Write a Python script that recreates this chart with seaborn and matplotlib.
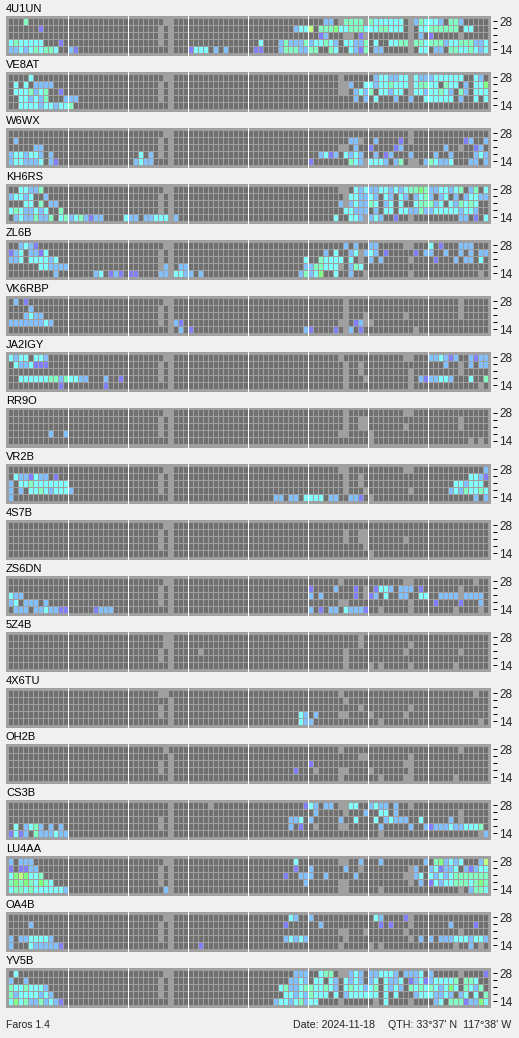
import numpy as np
import matplotlib
matplotlib.use("Agg")
import matplotlib.pyplot as plt
from matplotlib.colors import ListedColormap
import seaborn as sns

# each row: "start_column:levels", rows go from 28 MHz (top) down to 14 MHz
# . no signal, - no data, p b c t g y = weak to strong
A = ["31:-- ", "30:-.- ", "30:-.- ", "30:-.- ", "32:- "]
B = ["31:-- ", "31:-- ", "30:-.- ", "30:-.- ", "32:- "]
C = ["30:-- ", "32:- ", "30:-.- ", "30:-.- ", "32:- "]
D = ["31:- ", "32:- ", "30:-.- ", "30:-.- ", "32:- "]
E = ["32:- ", "32:- ", "30:-.- ", "30:-.- ", "32:- "]

R_4U1UN = [A[0] + "3:t 63:bb 66:- 67:tttt 71:- 72:tcccccc 80:-btcccb.ttb",
           A[1] + "6:p 57:bccy.tttgccttt 71:cccttccc 80:-.cctttttt 91:cc",
           A[2] + "62:pb 67:-- 70:p 71:- 80:-.b.p 90:-",
           A[3] + "0:ctccccc 10:p 50:c 54:btbbbtbcctcb 67:ccbbt 73:c 76:cctt 80:-ttctttbcctttbbc",
           A[4] + "0:bbcbctcttc 12:bp 36:pccc 41:b 43:b 49:pp 54:btttbb 60:tt 64:tc 68:cbpt 73:bb 80:- 82:cc 85:bb 88:ttcctcb 95:c"]
R_VE8AT = [A[0] + "4:c 66:- 73:bccbbcc 80:-cbbbcccccc 93:cb",
           A[1] + "1:c 3:c 5:bbbb 66:-- 68:b 71:ccbcctccc 80:-cttcc.tcc 91:b 93:ccg",
           A[2] + "1:ccctbct 10:p 66:-- 69:bcbt 74:ccbcc 80:-ccbcctcb.tb.ccc",
           A[3] + "2:ccbcbt 11:bbb 69:b 71:b 73:c 77:b 80:b 83:cccccc 90:b 93:c 95:c",
           A[4] + "2:ccccbccbcct"]
R_W6WX = [A[0] + "80:-",
          A[1] + "1:b 68:bb 70:- 73:b 78:p 80:- 91:pb 95:b",
          A[2] + "5:bb 66:-- 69:b 72:p 77:pb 87:b 90:- 93:pb",
          A[3] + "0:bccbccb 8:b 26:c 28:b 62:bcpb 67:cbcb 73:b 75:pb 80:b 85:b 88:b 93:bcb",
          A[4] + "0:bccbbbc 8:bp 25:bcbb 60:p 68:tcb 71:- 72:ccc 75:b 77:bt 80:-- 83:btcbbc 92:bb 95:b"]
R_KH6RS = [A[0] + "2:ccbbt 66:-- 69:cbc 72:bbccbcbcttgt 84:bbccbct 92:bt 95:c",
           A[1] + "0:bccbc 7:b 67:- 68:ccbbcb 75:cb 78:cb 81:bctb 86:bc 89:b 91:bccbb",
           A[2] + "3:cc 6:t 8:bb 66:b 67:- 68:bcbbtc 75:bc 78:c 81:cttt 85:bc 88:cbtct 93:c",
           A[3] + "0:ctcbbcbc 10:t 67:ccbbb 73:b 75:cc 78:ccbbtbbcccccbccb",
           A[4] + "1:bcbbtbbt 10:ctbctbpbb 23:cbb 27:bbccc 33:b 65:c 68:ccb 71:- 72:bcb 77:p 80:- 90:bb 93:p 95:c"]
R_ZL6B = [A[0] + "2:bcbp 67:b 69:b 72:bb 79:-- 84:c 86:p 90:bbb",
          A[1] + "0:pbc 4:bbpc 63:b 65:c 68:bc 70:- 71:bcb 75:p 81:p 83:bb 87:b 90:b 92:b 94:bb",
          A[2] + "0:bbc 4:ccccbc 59:c 62:tccc 66:c 68:c 70:- 72:b 74:b 80:- 85:p 89:b 91:bb 94:c",
          A[3] + "6:ccbbbb 31:b 34:bb 59:bbttccc 66:- 68:btc",
          A[4] + "9:b 17:bc 20:pbp 24:pp 30:bb 33:ccbb 38:b 58:btbcg 65:c 68:b 71:- 80:- 94:-"]
R_VK6RBP = [A[0] + "1:b 3:p 67:- 90:-",
            A[1] + "4:b 67:- 90:-",
            A[2] + "3:bcbb 67:- 71:- 79:- 90:-",
            A[3] + "0:bbbbbbbcb 33:bp 66:-- 69:pb 71:- 72:-",
            A[4] + "34:b 36:p 59:bp 65:p 67:- 68:b 70:p 81:-"]
R_JA2IGY = [A[0] + "0:cbcc 5:ccb 66:- 79:-- 84:bbcbpb 92:bpbb",
            A[1] + "1:cbbcppp 67:- 70:- 87:b 90:- 92:b 94:bb",
            A[2] + "67:- 70:- 80:- 90:-",
            A[3] + "2:ccccccttbtccbb 19:b 22:p 67:- 71:- 80:- 82:bp 84:bbccb 92:c 95:t",
            A[4] + "10:p 19:p 67:- 80:- 94:-"]
R_RR9O = [A[0] + "67:- 79:--",
          A[1] + "67:- 70:-- 90:-",
          A[2] + "67:- 70:-- 79:- 90:-",
          A[3] + "8:b 11:b 66:-- 72:-",
          A[4] + "72:- 92:- 94:-"]
R_VR2B = [A[0] + "66:-- 79:-- 95:b",
          A[1] + "1:cbbpcbb 9:p 67:- 70:- 92:ccbp",
          A[2] + "0:b 2:cctccccccc 67:- 70:- 89:ccbccc",
          A[3] + "0:b 2:b 4:cctcbcccb 67:- 71:- 80:- 88:bcbtcctc",
          A[4] + "0:b 53:bb 56:bb 59:cccc 64:bb 68:bbp 72:- 93:b 95:b"]
R_4S7B = [A[0],
          A[1] + "67:- 70:--",
          A[2] + "67:- 70:-- 79:-",
          A[3] + "71:-",
          A[4] + "72:-"]
R_ZS6DN = [A[0] + "66:- 79:-- 93:-",
           A[1] + "60:p 65:b 69:p 71:- 73:pccb 78:bbb 82:p 90:-",
           A[2] + "0:cbb 60:b 62:b 69:p 71:- 72:pb 75:c 78:bb 82:cc 86:bbbb 90:- 91:bbbb",
           A[3] + "0:bc 3:bbb 7:b 66:-- 80:- 85:p 90:p 94:b",
           A[4] + "1:bbb 5:bbcbbpp 17:pbbb 60:b 62:p 64:bb 67:cbbbp 74:- 80:- 89:- 94:-"]
R_5Z4B = [B[0] + "70:-",
          B[1] + "70:- 80:-",
          B[2] + "38:- 67:- 79:- 90:-",
          B[3] + "67:-",
          B[4] + "67:- 72:- 74:- 80:- 89:-"]
R_4X6TU = [C[0] + "66:- 93:-",
           C[1] + "67:-",
           C[2] + "70:- 80:-",
           C[3] + "58:cb 61:b 66:-- 72:- 79:-",
           C[4] + "58:cbb 74:- 94:-"]
R_OH2B = [D[0] + "66:- 90:-",
          D[1] + "70:-- 80:-",
          D[2] + "60:p 79:-- ",
          D[3] + "57:p 61:- 66:-- 72:- 80:-",
          D[4] + "66:- 74:- 79:-- 89:-"]
R_CS3B = [E[0] + "40:- 59:pcb 63:bb 66:-- 68:cc 72:bcbb 77:b 80:-",
          E[1] + "61:b 67:- 71:b 74:cc 77:b 90:-",
          E[2] + "56:bbc 60:b 66:b 69:c 73:c 75:bcbbb 82:c 88:b 90:-",
          E[3] + "1:c 3:bctb 8:b 10:b 56:b 58:p 61:- 66:-- 74:b 80:b 83:bpbbbcbbccct",
          E[4] + "0:pcpb 5:tbbbcbb 74:- 94:- 95:b"]
R_LU4AA = [A[0] + "0:b 2:bbb 57:c 66:-- 70:b 74:b 83:b 85:tgbcbc 94:by",
           A[1] + "0:p 2:ppbb 57:p 60:b 67:b 70:- 80:- 81:b 84:bcpbbc 91:bpbcc",
           A[2] + "0:cgygcct 55:p 58:bbb 63:b 69:b 79:-- 81:bc 84:cbcbcttttttt",
           A[3] + "0:tgtgtcgtc 59:b 66:-- 80:- 82:b 84:pcbcctttctgt",
           A[4] + "0:cttctccccccb 31:b 66:-- 74:- 90:- 92:bttc"]
R_OA4B = [A[0] + "56:cb 60:b 73:cb 79:p 80:-",
          A[1] + "4:b 55:p 62:b 74:p 76:p 80:- 88:b 93:p",
          A[2] + "66:-- 71:- 79:- 90:-",
          A[3] + "0:b 2:bbccccb 55:bcbcb 67:- 80:- 82:b 84:b 86:bbbcccbccb",
          A[4] + "0:b 4:cbbbbbp 38:p 66:- 72:- 74:- 89:- 92:b 94:-"]
R_YV5B = [A[0] + "1:c 57:bbb 62:ctt 66:-- 68:bcb 72:bbcccb 79:bbbc 84:b 90:- 95:p",
          A[1] + "0:b 3:b 56:bbcb 61:cc 64:cb 67:cbcb 72:bc 75:cbbc 80:pbcp 84:bccccT 91:ttc".replace("T", "t"),
          A[2] + "0:tcctcccb 54:ctbbcttcctcb 67:ctccbct 75:cbcb 80:tctct 85:cbcgc 91:tcbt",
          A[3] + "0:tbccccbcb 55:ccbcbtccc 65:c 67:bcccc 72:cc 75:c 77:c 81:bcccbbcb 90:bc 93:c 95:t",
          A[4] + "0:cgctbbtbcbp 53:bccbctbcc 66:- 73:- 75:c 80:- 85:bc 88:ttt 91:pbbgc"]

CALLS = ["4U1UN", "VE8AT", "W6WX", "KH6RS", "ZL6B", "VK6RBP", "JA2IGY", "RR9O", "VR2B",
         "4S7B", "ZS6DN", "5Z4B", "4X6TU", "OH2B", "CS3B", "LU4AA", "OA4B", "YV5B"]
PANELS = [R_4U1UN, R_VE8AT, R_W6WX, R_KH6RS, R_ZL6B, R_VK6RBP, R_JA2IGY, R_RR9O, R_VR2B,
          R_4S7B, R_ZS6DN, R_5Z4B, R_4X6TU, R_OH2B, R_CS3B, R_LU4AA, R_OA4B, R_YV5B]
BAND_LABELS = ["28", "", "", "", "14"]

LEVELS = {".": 0, "-": np.nan, "p": 1, "b": 2, "c": 3, "t": 4, "g": 5, "y": 6}
COLORS = ["#707070", "#8080ff", "#80c0ff", "#80ffff", "#80ffc0", "#80ff80", "#c0ff80"]
GREY = "#a0a0a0"
BG = "#f0f0f0"
W, H = 519, 1038
FONT = "Liberation Sans"


def decode(rows):
    grid = np.zeros((5, 96))
    for r, row in enumerate(rows):
        for tok in row.split():
            start, vals = tok.split(":")
            for i, ch in enumerate(vals):
                grid[r, int(start) + i] = LEVELS[ch]
    return grid


sns.set_style("white")
plt.rcParams["font.family"] = [FONT, "DejaVu Sans"]
fig = plt.figure(figsize=(W / 100, H / 100), dpi=100, facecolor=BG)

for k, (call, rows) in enumerate(zip(CALLS, PANELS)):
    top = 16 + 56 * k
    ax = fig.add_axes([6 / W, 1 - (top + 40) / H, 485 / W, 40 / H], facecolor=GREY)
    grid = decode(rows)
    sns.heatmap(grid, mask=np.isnan(grid), cmap=ListedColormap(COLORS), vmin=-0.5, vmax=6.5,
                cbar=False, linewidths=0.72, linecolor=GREY, ax=ax,
                xticklabels=False, yticklabels=BAND_LABELS)
    # one cell = 5 x 7 px, first cell starts 1.5 px inside the panel
    ax.set_xlim(-1.5 / 5, 483.5 / 5)
    ax.set_ylim(38.5 / 7, -1.5 / 7)
    for h in range(12, 96, 12):
        ax.axvline(h, color="white", lw=0.72)
    ax.yaxis.tick_right()
    ax.spines["right"].set_position(("outward", 1.44))
    for s in ax.spines.values():
        s.set_visible(False)
    ax.tick_params(axis="y", right=True, left=False, length=2.9, width=0.72, pad=1.8,
                   labelsize=8.5, labelrotation=0, color="black")
    for lbl in ax.get_yticklabels():
        lbl.set_va("center_baseline")
    ax.set_title(call, loc="left", fontsize=8, pad=2.8, color="black")

fig.text(6.5 / W, 1 - 1025.5 / H, "Faros 1.4", fontsize=7.5, va="center")
fig.text(293 / W, 1 - 1025.5 / H, "Date: 2024-11-18", fontsize=7.7, va="center")
fig.text(388 / W, 1 - 1025.5 / H, "QTH: 33\u00b037' N  117\u00b038' W", fontsize=7.7, va="center")

fig.savefig("out.png", dpi=100, facecolor=BG)
